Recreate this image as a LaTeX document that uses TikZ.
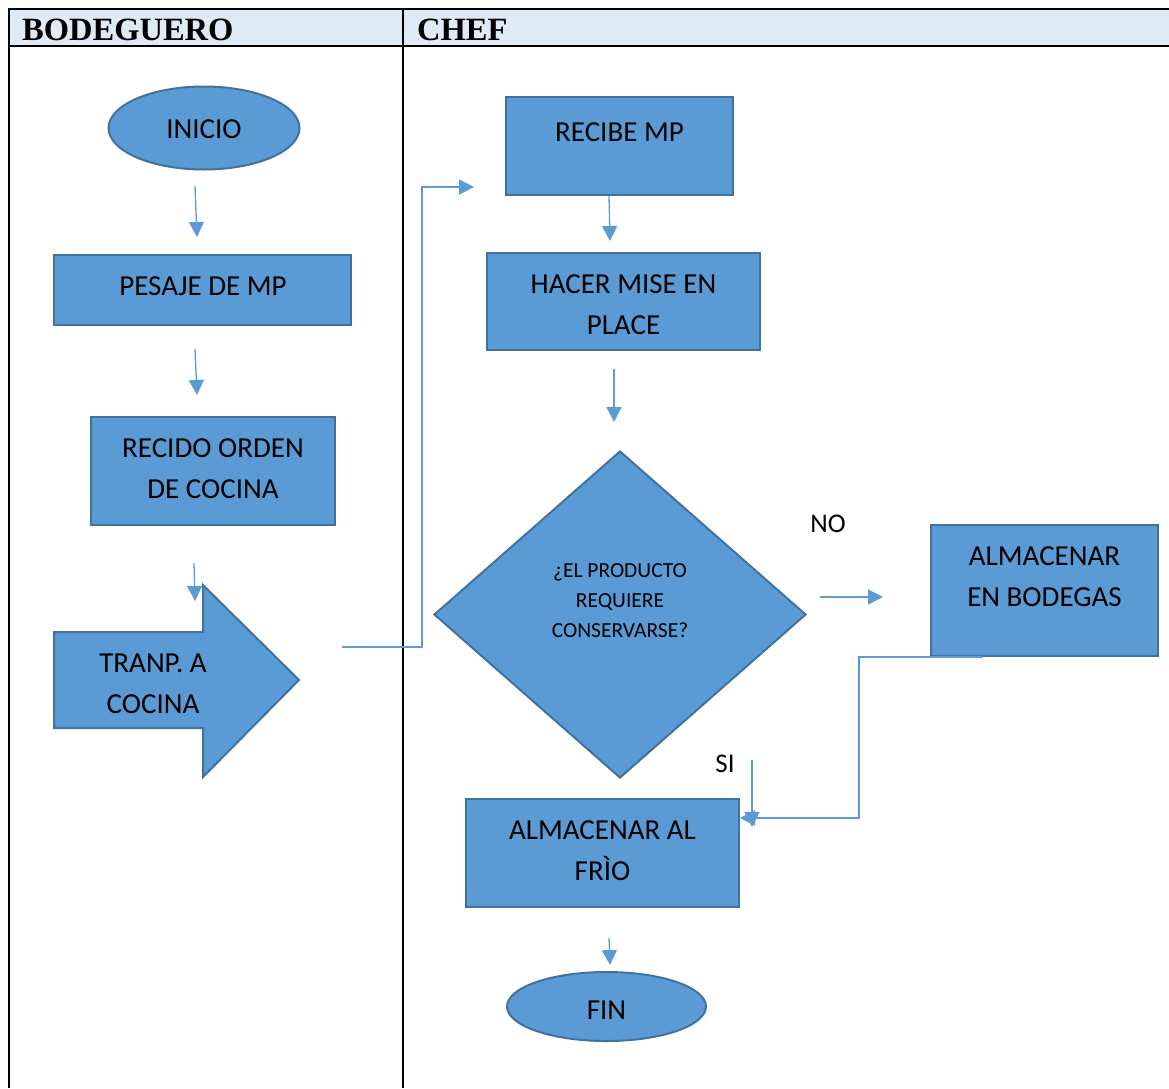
\documentclass[tikz,border=0pt]{standalone}
\usepackage{fontspec}
\setmainfont{Carlito}
\newfontfamily\headfont{Liberation Serif}
\usetikzlibrary{shapes.geometric,arrows.meta,calc}
\definecolor{boxfill}{HTML}{5B9BD5}
\definecolor{boxline}{HTML}{41719C}
\definecolor{headfill}{HTML}{DEEAF6}
\tikzset{
  shape base/.style={fill=boxfill,draw=boxline,line width=2pt,inner sep=0pt},
  procbox/.style={shape base,rectangle},
  termin/.style={shape base,ellipse},
  decide/.style={shape base,diamond},
  boxtext/.style={text=black,font=\fontsize{29}{41}\selectfont,align=center,inner sep=0pt},
  smalltext/.style={text=black,font=\fontsize{21.5}{30}\selectfont,align=center,inner sep=0pt},
  flow/.style={draw=boxfill,line width=1.3pt,-{Triangle[length=15pt,width=15pt]}},
  label text/.style={font=\fontsize{27}{30}\selectfont,inner sep=0pt},
  head text/.style={font=\headfont\bfseries\fontsize{32.5}{32}\selectfont,anchor=base west,inner sep=0pt},
  gridline/.style={draw=black,line width=2pt}
}
\begin{document}
\begin{tikzpicture}[x=1pt,y=-1pt]
\useasboundingbox (0,0) rectangle (1169,1088);
% lane table
\fill[headfill] (9,9) rectangle (1169,46);
\draw[gridline] (8,9) -- (1169,9);
\draw[gridline] (8,46) -- (1169,46);
\draw[gridline] (9,9) -- (9,1088);
\draw[gridline] (403,9) -- (403,1088);
\node[head text] (hbod) at (22,40) {BODEGUERO};
\node[head text] (hchef) at (417,40) {CHEF};

% BODEGUERO lane: shapes
\node[termin,minimum width=191pt,minimum height=83pt] (inicio) at (204,128) {};
\node[procbox,minimum width=297pt,minimum height=70pt] (pesaje) at (202.5,290) {};
\node[procbox,minimum width=244pt,minimum height=108pt] (orden) at (213,471) {};
\filldraw[fill=boxfill,draw=boxline,line width=2pt]
  (54,632) -- (203,632) -- (203,585) -- (299,680) -- (203,777) -- (203,728) -- (54,728) -- cycle;

% CHEF lane: shapes
\node[procbox,minimum width=227pt,minimum height=98pt] (recibe) at (619.5,146) {};
\node[procbox,minimum width=273pt,minimum height=97pt] (mise) at (623.5,301.5) {};
\node[decide,minimum width=372pt,minimum height=327pt] (decision) at (620,614.5) {};
\node[procbox,minimum width=227pt,minimum height=131pt] (bodegas) at (1044.5,590.5) {};
\node[procbox,minimum width=273pt,minimum height=108pt] (frio) at (602.5,853) {};
\node[termin,minimum width=199pt,minimum height=69pt] (fin) at (606.5,1006.5) {};

% texts inside the shapes
\node[boxtext] (inicio-t) at (204,129) {INICIO};
\node[boxtext] (pesaje-t) at (203,286) {PESAJE DE MP};
\node[boxtext] (orden-t) at (213,469) {RECIDO ORDEN\\DE COCINA};
\node[boxtext] (tranp) at (153,684) {TRANP. A\\COCINA};
\node[boxtext] (recibe-t) at (619.5,132) {RECIBE MP};
\node[boxtext] (mise-t) at (623.5,305) {HACER MISE EN\\PLACE};
\node[smalltext] (decision-t) at (620,600.5) {¿EL PRODUCTO\\REQUIERE\\CONSERVARSE?};
\node[boxtext] (bodegas-t) at (1044.5,577) {ALMACENAR\\EN BODEGAS};
\node[boxtext] (frio-t) at (602.5,851) {ALMACENAR AL\\FRÌO};
\node[boxtext] (fin-t) at (606.5,1010.5) {FIN};
\node[label text] (no) at (828,524) {NO};
\node[label text] (si) at (725,764) {SI};

% free arrow ends
\coordinate (a1s) at (195,186);  \coordinate (a1e) at (197,237);
\coordinate (a2s) at (195,349);  \coordinate (a2e) at (197,395);
\coordinate (a3s) at (194,563);  \coordinate (a3e) at (195,601);
\coordinate (c1s) at (342,647);  \coordinate (c1e) at (474,187);
\coordinate (a4s) at (609,196);  \coordinate (a4e) at (610,241);
\coordinate (a5s) at (614,369);  \coordinate (a5e) at (614,422);
\coordinate (a6s) at (820,597);  \coordinate (a6e) at (883,597);
\coordinate (a7s) at (752,760);  \coordinate (a7e) at (752,827);
\coordinate (c2s) at (983,657);  \coordinate (c2e) at (740,818);
\coordinate (a8s) at (609,938);  \coordinate (a8e) at (610,965);

% connectors
\draw[flow] (a1s) -- (a1e);
\draw[flow] (a2s) -- (a2e);
\draw[flow] (a3s) -- (a3e);
\draw[flow] (c1s) -- (422,647) -- (422,187) -- (c1e);
\draw[flow] (a4s) -- (a4e);
\draw[flow] (a5s) -- (a5e);
\draw[flow] (a6s) -- (a6e);
\draw[flow] (c2s) -- (859,657) -- (859,818) -- (c2e);
\draw[flow] (a7s) -- (a7e);
\draw[flow] (a8s) -- (a8e);
\end{tikzpicture}
\end{document}
